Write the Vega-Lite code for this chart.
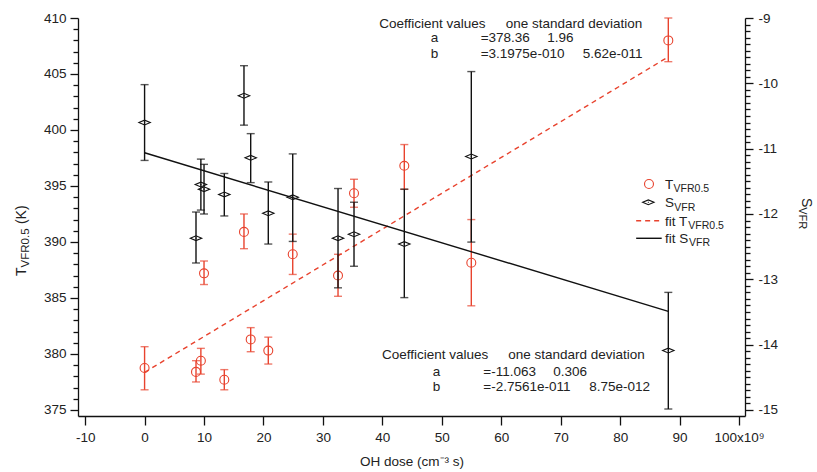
{
  "$schema": "https://vega.github.io/schema/vega-lite/v6.json",
  "width": 667,
  "height": 398,
  "autosize": {"type": "none"},
  "padding": {"left": 78, "top": 18, "right": 72, "bottom": 56},
  "background": "white",
  "config": {
    "view": {"stroke": null},
    "font": "Liberation Sans",
    "axis": {
      "labelFont": "Liberation Sans",
      "titleFont": "Liberation Sans",
      "labelFontSize": 13.5,
      "titleFontSize": 13.5,
      "titleFontWeight": "normal",
      "labelColor": "#222",
      "titleColor": "#222",
      "domainColor": "#111",
      "tickColor": "#111",
      "domainWidth": 1.3,
      "tickWidth": 1.3,
      "grid": false,
      "labelOverlap": false
    }
  },
  "datasets": {
    "pts": [
      {"x": 0, "T": 378.75, "Tlo": 376.8, "Thi": 380.65, "S": -10.6, "Slo": -11.18, "Shi": -10.02},
      {"x": 8.65, "T": 378.4, "Tlo": 377.5, "Thi": 379.4, "S": -12.37, "Slo": -12.75, "Shi": -11.97},
      {"x": 9.47, "T": 379.4, "Tlo": 378.2, "Thi": 380.5, "S": -11.55, "Slo": -11.94, "Shi": -11.16},
      {"x": 10.0, "T": 387.2, "Tlo": 386.2, "Thi": 388.3, "S": -11.62, "Slo": -12.0, "Shi": -11.24},
      {"x": 13.41, "T": 377.7, "Tlo": 376.8, "Thi": 378.6, "S": -11.7, "Slo": -12.03, "Shi": -11.38},
      {"x": 16.72, "T": 390.9, "Tlo": 389.4, "Thi": 392.5, "S": -10.19, "Slo": -10.64, "Shi": -9.73},
      {"x": 17.85, "T": 381.3, "Tlo": 380.2, "Thi": 382.35, "S": -11.14, "Slo": -11.52, "Shi": -10.77},
      {"x": 20.81, "T": 380.3, "Tlo": 379.1, "Thi": 381.5, "S": -11.99, "Slo": -12.46, "Shi": -11.51},
      {"x": 24.92, "T": 388.9, "Tlo": 387.1, "Thi": 390.7, "S": -11.745, "Slo": -12.42, "Shi": -11.08},
      {"x": 32.54, "T": 387.0, "Tlo": 385.15, "Thi": 388.9, "S": -12.37, "Slo": -13.13, "Shi": -11.61},
      {"x": 35.23, "T": 394.35, "Tlo": 393.1, "Thi": 395.6, "S": -12.31, "Slo": -12.8, "Shi": -11.82},
      {"x": 43.69, "T": 396.8, "Tlo": 394.7, "Thi": 398.7, "S": -12.46, "Slo": -13.28, "Shi": -11.62},
      {"x": 54.96, "T": 388.15, "Tlo": 384.3, "Thi": 392.0, "S": -11.12, "Slo": -12.43, "Shi": -9.82},
      {"x": 88.1, "T": 408.0, "Tlo": 406.1, "Thi": 410.0, "S": -14.09, "Slo": -14.985, "Shi": -13.2}
    ],
    "fitT": [
      {"x": 0, "y": 378.36},
      {"x": 88.1, "y": 406.53}
    ],
    "fitS": [
      {"x": 0, "y": -11.063},
      {"x": 88.1, "y": -13.491}
    ],
    "legsym": [
      {"x": 84.85, "y": 395.18, "s": "c"},
      {"x": 84.74, "y": 393.545, "s": "d"}
    ],
    "legline": [
      {"x": 82.69, "y": 391.9, "g": "dash"},
      {"x": 86.99, "y": 391.9, "g": "dash"},
      {"x": 82.69, "y": 390.33, "g": "solid"},
      {"x": 86.99, "y": 390.33, "g": "solid"}
    ],
    "txt": [
      {"t": "Coefficient values", "x": 39.48, "y": 409.15, "k": "m"},
      {"t": "one standard deviation", "x": 60.75, "y": 409.15, "k": "m"},
      {"t": "a", "x": 48.13, "y": 407.82, "k": "m"},
      {"t": "=378.36", "x": 56.54, "y": 407.82, "k": "m"},
      {"t": "1.96", "x": 67.74, "y": 407.82, "k": "m"},
      {"t": "b", "x": 48.13, "y": 406.45, "k": "m"},
      {"t": "=3.1975e-010", "x": 56.54, "y": 406.45, "k": "m"},
      {"t": "5.62e-011", "x": 73.7, "y": 406.45, "k": "m"},
      {"t": "Coefficient values", "x": 39.94, "y": 379.53, "k": "m"},
      {"t": "one standard deviation", "x": 61.18, "y": 379.53, "k": "m"},
      {"t": "a", "x": 48.47, "y": 378.06, "k": "m"},
      {"t": "=-11.063", "x": 56.98, "y": 378.06, "k": "m"},
      {"t": "0.306", "x": 68.75, "y": 378.06, "k": "m"},
      {"t": "b", "x": 48.47, "y": 376.72, "k": "m"},
      {"t": "=-2.7561e-011", "x": 56.98, "y": 376.72, "k": "m"},
      {"t": "8.75e-012", "x": 74.81, "y": 376.72, "k": "m"},
      {"t": "T", "x": 87.54, "y": 394.69, "k": "m"},
      {"t": "VFR0.5", "x": 88.98, "y": 394.42, "k": "s"},
      {"t": "S", "x": 87.54, "y": 393.08, "k": "m"},
      {"t": "VFR", "x": 89.11, "y": 392.81, "k": "s"},
      {"t": "fit T", "x": 87.54, "y": 391.47, "k": "m"},
      {"t": "VFR0.5", "x": 91.46, "y": 391.2, "k": "s"},
      {"t": "fit S", "x": 87.54, "y": 389.87, "k": "m"},
      {"t": "VFR", "x": 91.6, "y": 389.6, "k": "s"},
      {"t": "T", "x": -19.95, "y": 386.97, "k": "lm"},
      {"t": "VFR0.5", "x": -19.44, "y": 387.73, "k": "ls"},
      {"t": "(K)", "x": -19.95, "y": 391.6, "k": "lm"},
      {"t": "S", "x": 110.59, "y": 393.93, "k": "rm"},
      {"t": "VFR", "x": 110.08, "y": 393.1, "k": "rs"}
    ]
  },
  "layer": [
    {
      "layer": [
        {
          "data": {"name": "pts"},
          "mark": {"type": "point", "shape": "circle", "filled": false, "color": "#e8432e", "size": 80, "strokeWidth": 1.1, "opacity": 1},
          "encoding": {
            "x": {
              "field": "x", "type": "quantitative",
              "scale": {"domain": [-11.2, 101.0], "nice": false, "zero": false},
              "axis": {
                "orient": "bottom",
                "values": [-10, 0, 10, 20, 30, 40, 50, 60, 70, 80, 90, 100],
                "labelExpr": "datum.value === 100 ? '100x10⁹' : '' + datum.value",
                "title": "OH dose (cm⁻³ s)",
                "tickSize": 9,
                "labelPadding": 5,
                "titlePadding": 11,
                "labelOverlap": false
              }
            },
            "y": {
              "field": "T", "type": "quantitative",
              "scale": {"domain": [374.46, 410], "nice": false, "zero": false},
              "axis": {
                "orient": "left",
                "title": null,
                "values": [375,376,377,378,379,380,381,382,383,384,385,386,387,388,389,390,391,392,393,394,395,396,397,398,399,400,401,402,403,404,405,406,407,408,409,410],
                "labelExpr": "datum.value % 5 === 0 ? '' + datum.value : ''",
                "tickSize": {"condition": {"test": "datum.value % 5 === 0", "value": 8}, "value": 5},
                "labelPadding": 4,
                "labelOverlap": false,
                "tickCount": 36
              }
            }
          }
        },
        {
          "data": {"name": "pts"},
          "mark": {"type": "errorbar", "color": "#e8432e", "thickness": 1.4, "ticks": true, "size": 8},
          "encoding": {
            "x": {"field": "x", "type": "quantitative"},
            "y": {"field": "Tlo", "type": "quantitative", "scale": {"domain": [374.46, 410], "nice": false, "zero": false}},
            "y2": {"field": "Thi"}
          }
        },
        {
          "data": {"name": "fitT"},
          "mark": {"type": "line", "color": "#e8432e", "strokeWidth": 1.4, "strokeDash": [5, 4]},
          "encoding": {
            "x": {"field": "x", "type": "quantitative"},
            "y": {"field": "y", "type": "quantitative"}
          }
        },
        {
          "data": {"name": "legline"},
          "transform": [{"filter": "datum.g === 'dash'"}],
          "mark": {"type": "line", "color": "#e8432e", "strokeWidth": 1.4, "strokeDash": [5, 4]},
          "encoding": {
            "x": {"field": "x", "type": "quantitative"},
            "y": {"field": "y", "type": "quantitative"}
          }
        },
        {
          "data": {"name": "legline"},
          "transform": [{"filter": "datum.g === 'solid'"}],
          "mark": {"type": "line", "color": "#111", "strokeWidth": 1.4},
          "encoding": {
            "x": {"field": "x", "type": "quantitative"},
            "y": {"field": "y", "type": "quantitative"}
          }
        },
        {
          "data": {"name": "legsym"},
          "transform": [{"filter": "datum.s === 'c'"}],
          "mark": {"type": "point", "shape": "circle", "filled": false, "color": "#e8432e", "size": 80, "strokeWidth": 1.1, "opacity": 1},
          "encoding": {
            "x": {"field": "x", "type": "quantitative"},
            "y": {"field": "y", "type": "quantitative"}
          }
        },
        {
          "data": {"name": "legsym"},
          "transform": [{"filter": "datum.s === 'd'"}],
          "mark": {"type": "point", "shape": "M-1,0L0,-0.42L1,0L0,0.42Z M0,-0.1L0,0.1", "filled": false, "color": "#111", "size": 130, "strokeWidth": 1.1, "opacity": 1},
          "encoding": {
            "x": {"field": "x", "type": "quantitative"},
            "y": {"field": "y", "type": "quantitative"}
          }
        },
        {
          "data": {"name": "txt"},
          "transform": [{"filter": "datum.k === 'm'"}],
          "mark": {"type": "text", "align": "left", "baseline": "alphabetic", "fontSize": 13.5, "color": "#222"},
          "encoding": {
            "x": {"field": "x", "type": "quantitative"},
            "y": {"field": "y", "type": "quantitative"},
            "text": {"field": "t"}
          }
        },
        {
          "data": {"name": "txt"},
          "transform": [{"filter": "datum.k === 's'"}],
          "mark": {"type": "text", "align": "left", "baseline": "alphabetic", "fontSize": 10.5, "color": "#222"},
          "encoding": {
            "x": {"field": "x", "type": "quantitative"},
            "y": {"field": "y", "type": "quantitative"},
            "text": {"field": "t"}
          }
        },
        {
          "data": {"name": "txt"},
          "transform": [{"filter": "datum.k === 'lm'"}],
          "mark": {"type": "text", "align": "left", "baseline": "alphabetic", "fontSize": 14, "angle": 270, "color": "#222"},
          "encoding": {
            "x": {"field": "x", "type": "quantitative"},
            "y": {"field": "y", "type": "quantitative"},
            "text": {"field": "t"}
          }
        },
        {
          "data": {"name": "txt"},
          "transform": [{"filter": "datum.k === 'ls'"}],
          "mark": {"type": "text", "align": "left", "baseline": "alphabetic", "fontSize": 11.5, "angle": 270, "color": "#222"},
          "encoding": {
            "x": {"field": "x", "type": "quantitative"},
            "y": {"field": "y", "type": "quantitative"},
            "text": {"field": "t"}
          }
        },
        {
          "data": {"name": "txt"},
          "transform": [{"filter": "datum.k === 'rm'"}],
          "mark": {"type": "text", "align": "left", "baseline": "alphabetic", "fontSize": 14, "angle": 90, "color": "#222"},
          "encoding": {
            "x": {"field": "x", "type": "quantitative"},
            "y": {"field": "y", "type": "quantitative"},
            "text": {"field": "t"}
          }
        },
        {
          "data": {"name": "txt"},
          "transform": [{"filter": "datum.k === 'rs'"}],
          "mark": {"type": "text", "align": "left", "baseline": "alphabetic", "fontSize": 11, "angle": 90, "color": "#222"},
          "encoding": {
            "x": {"field": "x", "type": "quantitative"},
            "y": {"field": "y", "type": "quantitative"},
            "text": {"field": "t"}
          }
        }
      ]
    },
    {
      "layer": [
        {
          "data": {"name": "pts"},
          "mark": {"type": "point", "shape": "M-1,0L0,-0.42L1,0L0,0.42Z M0,-0.1L0,0.1", "filled": false, "color": "#111", "size": 130, "strokeWidth": 1.1, "opacity": 1},
          "encoding": {
            "x": {"field": "x", "type": "quantitative"},
            "y": {
              "field": "S", "type": "quantitative",
              "scale": {"domain": [-15.092, -9], "nice": false, "zero": false},
              "axis": {
                "orient": "right",
                "title": null,
                "values": [-15,-14.9,-14.8,-14.7,-14.6,-14.5,-14.4,-14.3,-14.2,-14.1,-14,-13.9,-13.8,-13.7,-13.6,-13.5,-13.4,-13.3,-13.2,-13.1,-13,-12.9,-12.8,-12.7,-12.6,-12.5,-12.4,-12.3,-12.2,-12.1,-12,-11.9,-11.8,-11.7,-11.6,-11.5,-11.4,-11.3,-11.2,-11.1,-11,-10.9,-10.8,-10.7,-10.6,-10.5,-10.4,-10.3,-10.2,-10.1,-10,-9.9,-9.8,-9.7,-9.6,-9.5,-9.4,-9.3,-9.2,-9.1,-9],
                "labelExpr": "abs(datum.value - round(datum.value)) < 0.001 ? '' + round(datum.value) : ''",
                "tickSize": {"condition": {"test": "abs(datum.value - round(datum.value)) < 0.001", "value": 8}, "value": 5},
                "labelPadding": 5,
                "labelOverlap": false,
                "tickCount": 61
              }
            }
          }
        },
        {
          "data": {"name": "pts"},
          "mark": {"type": "errorbar", "color": "#111", "thickness": 1.4, "ticks": true, "size": 8},
          "encoding": {
            "x": {"field": "x", "type": "quantitative"},
            "y": {"field": "Slo", "type": "quantitative", "scale": {"domain": [-15.092, -9], "nice": false, "zero": false}},
            "y2": {"field": "Shi"}
          }
        },
        {
          "data": {"name": "fitS"},
          "mark": {"type": "line", "color": "#111", "strokeWidth": 1.4},
          "encoding": {
            "x": {"field": "x", "type": "quantitative"},
            "y": {"field": "y", "type": "quantitative"}
          }
        }
      ]
    }
  ],
  "resolve": {"scale": {"y": "independent"}}
}
